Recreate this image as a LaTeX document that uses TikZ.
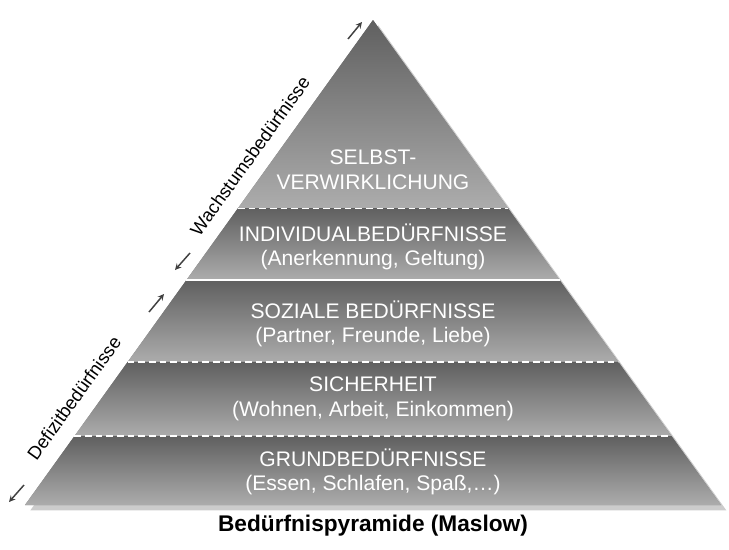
\documentclass[tikz,border=0pt]{standalone}
\usepackage{fontspec}
\setmainfont{Liberation Sans}
\usetikzlibrary{calc,shadows}
\tikzset{
  band/.style={top color=gray!75!black, bottom color=gray!65, draw=none},
  sep/.style={white, line width=1pt, dashed, dash pattern=on 5pt off 3pt},
  lvl/.style={white, align=center, font=\fontsize{15.8}{18.5}\selectfont},
  side/.style={font=\fontsize{13.8}{15}\selectfont, rotate=54.3},
  sidearrow/.style={->, >=stealth, line width=1.1pt, black!75}
}
\begin{document}
\begin{tikzpicture}[x=0.75pt,y=-0.75pt]
\useasboundingbox (0,0) rectangle (729,550);
\coordinate (A) at (373,20);
\coordinate (L) at (25,505);
\coordinate (R) at (721,505);
% band borders
\foreach \n/\t in {a/0.612,b/0.464,c/0.295,d/0.142}{
  \coordinate (l\n) at ($(L)!\t!(A)$);
  \coordinate (r\n) at ($(R)!\t!(A)$);
}
\fill[gray, drop shadow={shadow xshift=4pt, shadow yshift=-4pt, opacity=0.4}] (A) -- (L) -- (R) -- cycle;
\shade[band] (A) -- (la) -- (ra) -- cycle;
\shade[band] (la) -- (lb) -- (rb) -- (ra) -- cycle;
\shade[band] (lb) -- (lc) -- (rc) -- (rb) -- cycle;
\shade[band] (lc) -- (ld) -- (rd) -- (rc) -- cycle;
\shade[band] (ld) -- (L) -- (R) -- (rd) -- cycle;
\draw[sep] (la) -- (ra);
\draw[white, line width=2pt] (lb) -- (rb);
\draw[sep] (lc) -- (rc);
\draw[sep] (ld) -- (rd);
% texts
\node[lvl] (selbst) at (373,170) {SELBST-\\VERWIRKLICHUNG};
\node[lvl] (indiv) at (373,247) {INDIVIDUALBEDÜRFNISSE\\(Anerkennung, Geltung)};
\node[lvl] (sozial) at (373,324) {SOZIALE BEDÜRFNISSE\\(Partner, Freunde, Liebe)};
\node[lvl] (sicher) at (373,399) {SICHERHEIT\\(Wohnen, Arbeit, Einkommen)};
\node[lvl] (grund) at (373,472) {GRUNDBEDÜRFNISSE\\(Essen, Schlafen, Spaß,…)};
\node[font=\bfseries\fontsize{17}{20}\selectfont] (titel) at (373,526) {Bedürfnispyramide (Maslow)};
% side labels
\node[side] (wachs) at (250,156) {Wachstumsbedürfnisse};
\node[side] (defizit) at (74,398) {Defizitbedürfnisse};
\coordinate (w1) at (348,39); \coordinate (w2) at (362,22);
\coordinate (w3) at (190,253); \coordinate (w4) at (175,270);
\coordinate (d1) at (149,312); \coordinate (d2) at (164,294);
\coordinate (d3) at (24,485); \coordinate (d4) at (9,502);
\draw[sidearrow] (w1) -- (w2);
\draw[sidearrow] (w3) -- (w4);
\draw[sidearrow] (d1) -- (d2);
\draw[sidearrow] (d3) -- (d4);
\end{tikzpicture}
\end{document}
